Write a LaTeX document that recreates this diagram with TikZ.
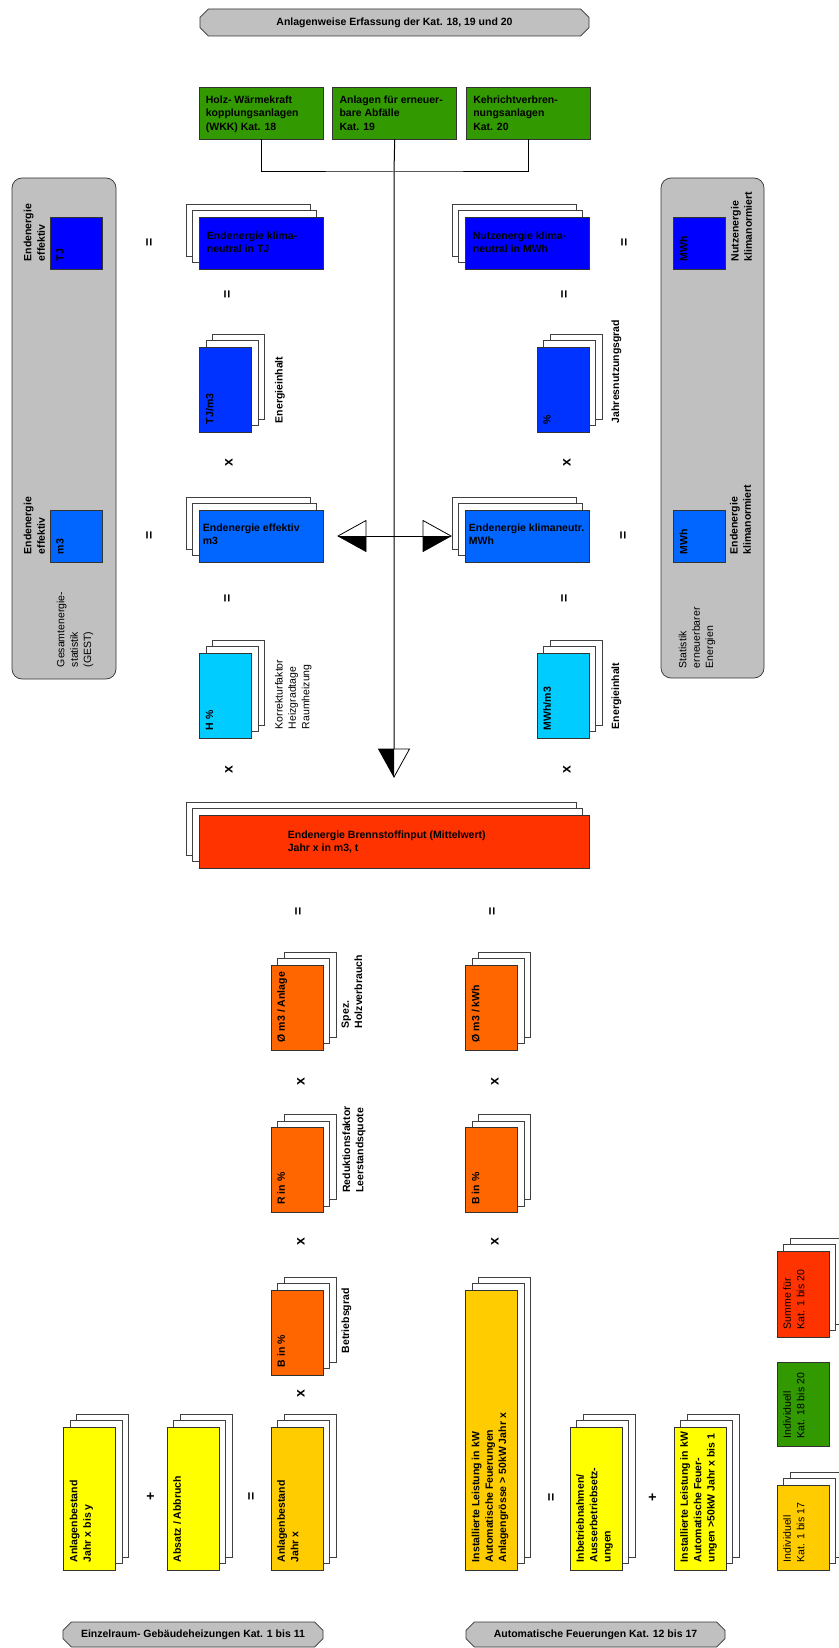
\documentclass[tikz,border=0pt]{standalone}
\usepackage{fontspec}
\setmainfont{Liberation Sans}
\usetikzlibrary{positioning, shadows, shapes.misc}

\definecolor{panelgray}{RGB}{192,192,192}
\definecolor{kgreen}{RGB}{51,153,0}
\definecolor{blueA}{RGB}{0,0,255}
\definecolor{blueB}{RGB}{0,51,255}
\definecolor{blueC}{RGB}{0,102,255}
\definecolor{kcyan}{RGB}{0,204,255}
\definecolor{kred}{RGB}{255,51,0}
\definecolor{korange}{RGB}{255,102,0}
\definecolor{kgold}{RGB}{255,204,0}
\definecolor{kyellow}{RGB}{255,255,0}

\newcommand{\diafont}{\fontsize{10.5}{13.3}\selectfont}
% half filled arrow head, tip at #1
\newcommand{\halftip}[2]{%
  \begin{scope}[shift={(#1)}, #2]
    \draw[line width=0.8pt, fill=white] (0,0) -- (-28,-15.5) -- (-28,15.5) -- cycle;
    \fill (0,0) -- (-28,15.5) -- (-28,0) -- cycle;
  \end{scope}}

\begin{document}
\begin{tikzpicture}[
    x=1pt, y=-1pt,
    font=\diafont\bfseries,
    line/.style={draw=black, line width=1pt},
    box/.style={draw=black!80, line width=0.7pt, inner sep=0pt},
    wstack/.style={copy shadow={shadow xshift=-13pt, shadow yshift=13pt, fill=white, draw=black!75, line width=0.7pt},
                   copy shadow={shadow xshift=-6.5pt, shadow yshift=6.5pt, fill=white, draw=black!75, line width=0.7pt}},
    vstack/.style={copy shadow={shadow xshift=13pt, shadow yshift=13pt, fill=white, draw=black!75, line width=0.7pt},
                   copy shadow={shadow xshift=6.5pt, shadow yshift=6.5pt, fill=white, draw=black!75, line width=0.7pt}},
    wcard/.style={box, wstack, minimum width=124pt, minimum height=52pt},
    vcard/.style={box, vstack, minimum width=52pt, minimum height=85pt},
    tall/.style={box, vstack, minimum width=52pt, minimum height=143pt},
    sq/.style={box, minimum width=52pt, minimum height=52pt},
    gbox/.style={box, fill=kgreen, minimum width=124pt, minimum height=52pt},
    panel/.style={draw=black!80, line width=0.7pt, fill=panelgray, rounded corners=10pt, inner sep=0pt},
    caption/.style={chamfered rectangle, chamfered rectangle xsep=6pt, draw=black!80, line width=0.7pt,
                    fill=panelgray, inner sep=0pt},
    htxt/.style={anchor=north west, align=left, inner sep=0pt},
    vtxt/.style={rotate=90, anchor=north west, align=left, inner sep=0pt},
    vthin/.style={vtxt, font=\diafont},
    op/.style={rotate=90, inner sep=0pt, font=\fontsize{14}{14}\selectfont\bfseries}
]
\path[use as bounding box, fill=white] (0,0) rectangle (838,1648);

% captions
\node[caption, minimum width=389pt, minimum height=27pt] (capTop) at (394.5,22.5)
    {Anlagenweise Erfassung der Kat. 18, 19 und 20};
\node[caption, minimum width=260pt, minimum height=25pt] (capL) at (193,1634.5) {Einzelraum- Gebäudeheizungen Kat. 1 bis 11};
\node[caption, minimum width=259pt, minimum height=25pt] (capR) at (595.5,1634.5) {Automatische Feuerungen Kat. 12 bis 17};

% Kat. 18-20
\node[gbox] (gWKK) at (261,113) {};
\node[gbox, right=9pt of gWKK] (gAbf) {};
\node[gbox, right=9pt of gAbf] (gKehr) {};
\node[htxt] (tWKK) at ([shift={(7,9)}]gWKK.north west) {Holz- Wärmekraft\\kopplungsanlagen\\(WKK) Kat. 18};
\node[htxt] (tAbf) at ([shift={(7,9)}]gAbf.north west) {Anlagen für erneuer-\\bare Abfälle\\Kat. 19};
\node[htxt] (tKehr) at ([shift={(7,9)}]gKehr.north west) {Kehrichtverbren-\\nungsanlagen\\Kat. 20};

% statistics panels
\node[panel, minimum width=104pt, minimum height=501pt] (panL) at (64,428.5) {};
\node[panel, minimum width=103pt, minimum height=500pt] (panR) at (712.5,428) {};
\node[sq, fill=blueA] (sqTJ) at (76,243) {};
\node[sq, fill=blueC] (sqM3) at (76,536) {};
\node[sq, fill=blueA] (sqNutz) at (699.5,243) {};
\node[sq, fill=blueC] (sqEnd) at (699.5,536) {};
\node[vtxt] (tTJ) at ([shift={(6.5,-8)}]sqTJ.south west) {TJ};
\node[vtxt] (tM3) at ([shift={(6.5,-8)}]sqM3.south west) {m3};
\node[vtxt] (tNutz) at ([shift={(6.5,-8)}]sqNutz.south west) {MWh};
\node[vtxt] (tEnd) at ([shift={(6.5,-8)}]sqEnd.south west) {MWh};
\node[vtxt] (lEffTJ) at ([shift={(-26,-8)}]sqTJ.south west) {Endenergie\\effektiv};
\node[vtxt] (lEffM3) at ([shift={(-26,-8)}]sqM3.south west) {Endenergie\\effektiv};
\node[vthin] (lGest) at ([shift={(45,-12)}]panL.south west) {Gesamtenergie-\\statistik\\(GEST)};
\node[vtxt] (lNutz) at ([shift={(5,-8)}]sqNutz.south east) {Nutzenergie\\klimanormiert};
\node[vtxt] (lEnd) at ([shift={(4,-8)}]sqEnd.south east) {Endenergie\\klimanormiert};
\node[vthin] (lStat) at ([shift={(18,-10)}]panR.south west) {Statistik\\erneuerbarer\\Energien};

% upper chain
\node[wcard, fill=blueA] (bKlimaTJ) at (261,243) {};
\node[wcard, fill=blueA] (bNutz) at (527,243) {};
\node[vcard, fill=blueB] (bTJm3) at (225.5,389.5) {};
\node[vcard, fill=blueB] (bProz) at (563,389.5) {};
\node[wcard, fill=blueC] (bEffM3) at (261,536) {};
\node[wcard, fill=blueC] (bKlimaMWh) at (527,536) {};
\node[vcard, fill=kcyan] (bH) at (225.5,695.5) {};
\node[vcard, fill=kcyan] (bMWhm3) at (563,695.5) {};
\node[htxt] (tKlimaTJ) at ([shift={(8,15)}]bKlimaTJ.north west) {Endenergie klima-\\neutral in TJ};
\node[htxt] (tNutzB) at ([shift={(8,15)}]bNutz.north west) {Nutzenergie klima-\\neutral in MWh};
\node[htxt] (tEffM3) at ([shift={(4,14)}]bEffM3.north west) {Endenergie effektiv\\m3};
\node[htxt] (tKlimaMWh) at ([shift={(4,14)}]bKlimaMWh.north west) {Endenergie klimaneutr.\\MWh};
\node[vtxt] (tTJm3) at ([shift={(6.5,-8)}]bTJm3.south west) {TJ/m3};
\node[vtxt] (tProz) at ([shift={(6.5,-8)}]bProz.south west) {\%};
\node[vtxt] (tH) at ([shift={(6.5,-8)}]bH.south west) {H \%};
\node[vtxt] (tMWhm3) at ([shift={(6.5,-8)}]bMWhm3.south west) {MWh/m3};
\node[vtxt] (lInhaltL) at ([shift={(23,-9)}]bTJm3.south east) {Energieinhalt};
\node[vtxt] (lJahr) at ([shift={(22,-9)}]bProz.south east) {Jahresnutzungsgrad};
\node[vthin] (lKorr) at ([shift={(23,-9)}]bH.south east) {Korrekturfaktor\\Heizgradtage\\Raumheizung};
\node[vtxt] (lInhaltR) at ([shift={(22,-9)}]bMWhm3.south east) {Energieinhalt};

% fuel input
\node[box, wstack, fill=kred, minimum width=390pt, minimum height=53pt] (bInput) at (394,841.5) {};
\node[htxt] (tInput) at ([shift={(89,16)}]bInput.north west) {Endenergie Brennstoffinput (Mittelwert)\\Jahr x in m3, t};

% lower chain
\node[vcard, fill=korange] (bSpez) at (297,1007.5) {};
\node[vcard, fill=korange] (bKwh) at (491.5,1007.5) {};
\node[vcard, fill=korange] (bR) at (297,1170) {};
\node[vcard, fill=korange] (bBr) at (491.5,1170) {};
\node[vcard, fill=korange] (bBl) at (297,1332.5) {};
\node[box, vstack, fill=kgold, minimum width=52pt, minimum height=280pt] (bLeist) at (491.5,1430) {};
\node[vtxt] (tSpez) at ([shift={(6.5,-8)}]bSpez.south west) {Ø m3 / Anlage};
\node[vtxt] (tKwh) at ([shift={(6.5,-8)}]bKwh.south west) {Ø m3 / kWh};
\node[vtxt] (tR) at ([shift={(6.5,-8)}]bR.south west) {R in \%};
\node[vtxt] (tBr) at ([shift={(6.5,-8)}]bBr.south west) {B in \%};
\node[vtxt] (tBl) at ([shift={(6.5,-8)}]bBl.south west) {B in \%};
\node[vtxt] (tLeist) at ([shift={(6.5,-8)}]bLeist.south west)
    {Installierte Leistung in kW\\Automatische Feuerungen\\Anlagengrösse > 50kW Jahr x};
\node[vtxt] (lSpez) at ([shift={(18,-22)}]bSpez.south east) {Spez.\\Holzverbrauch};
\node[vtxt] (lRed) at ([shift={(19,-20)}]bR.south east) {Reduktionsfaktor\\Leerstandsquote};
\node[vtxt] (lBetr) at ([shift={(18,-22)}]bBl.south east) {Betriebsgrad};

% stock of installations
\node[tall, fill=kyellow] (bBestY) at (89.5,1498.5) {};
\node[tall, fill=kyellow] (bAbsatz) at (193,1498.5) {};
\node[tall, fill=kgold] (bBestX) at (297,1498.5) {};
\node[tall, fill=kyellow] (bInbetr) at (596,1498.5) {};
\node[tall, fill=kyellow] (bInst) at (700,1498.5) {};
\node[vtxt] (tBestY) at ([shift={(6.5,-8)}]bBestY.south west) {Anlagenbestand\\Jahr x bis y};
\node[vtxt] (tAbsatz) at ([shift={(6.5,-8)}]bAbsatz.south west) {Absatz / Abbruch};
\node[vtxt] (tBestX) at ([shift={(6.5,-8)}]bBestX.south west) {Anlagenbestand\\Jahr x};
\node[vtxt] (tInbetr) at ([shift={(6.5,-8)}]bInbetr.south west) {Inbetriebnahmen/\\Ausserbetriebsetz-\\ungen};
\node[vtxt] (tInst) at ([shift={(6.5,-8)}]bInst.south west)
    {Installierte Leistung in kW\\Automatische Feuer-\\ungen >50kW Jahr x bis 1};

% legend
\node[box, vstack, fill=kred, minimum width=52pt, minimum height=86pt] (lgSumme) at (803,1294) {};
\node[box, fill=kgreen, minimum width=52pt, minimum height=84pt] (lgGreen) at (803,1404) {};
\node[vcard, fill=kgold] (lgGold) at (803,1527.5) {};
\node[vthin] (tSumme) at ([shift={(6.5,-8)}]lgSumme.south west) {Summe für\\Kat. 1 bis 20};
\node[vthin] (tGreen) at ([shift={(6.5,-8)}]lgGreen.south west) {Individuell\\Kat. 18 bis 20};
\node[vthin] (tGold) at ([shift={(6.5,-8)}]lgGold.south west) {Individuell\\Kat. 1 bis 17};

% operators
\node[op] (o1) at (150,242) {=};
\node[op] (o2) at (625,242) {=};
\node[op] (o3) at (228,294) {=};
\node[op] (o4) at (565,294) {=};
\node[op] (o5) at (229,463) {x};
\node[op] (o6) at (567,463) {x};
\node[op] (o7) at (150,535) {=};
\node[op] (o8) at (624,535) {=};
\node[op] (o9) at (228,598) {=};
\node[op] (o10) at (565,598) {=};
\node[op] (o11) at (229,770) {x};
\node[op] (o12) at (567,770) {x};
\node[op] (o13) at (299,911) {=};
\node[op] (o14) at (493,911) {=};
\node[op] (o15) at (301,1082) {x};
\node[op] (o16) at (495,1082) {x};
\node[op] (o17) at (301,1242) {x};
\node[op] (o18) at (495,1242) {x};
\node[op] (o19) at (301,1394) {x};
\node[op] (o20) at (151,1496) {+};
\node[op] (o21) at (252,1496) {=};
\node[op] (o22) at (552,1497) {=};
\node[op] (o23) at (653,1497) {+};

% connectors
\coordinate (bus) at (394,172);
\coordinate (tipD) at (394,777);
\coordinate (tipL) at (338,536);
\coordinate (tipR) at (451,536);
\draw[line] (gWKK.south) |- (bus) -| (gKehr.south);
\draw[line] (gAbf.south) -- (bus) -- (tipD);
\draw[line] (tipL) -- (tipR);
\halftip{tipD}{rotate=-90}
\halftip{tipL}{xscale=-1}
\halftip{tipR}{}
\end{tikzpicture}
\end{document}
